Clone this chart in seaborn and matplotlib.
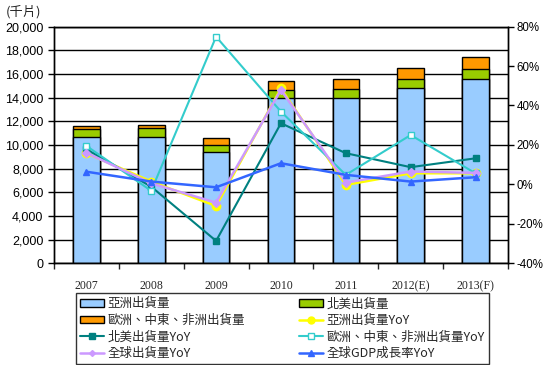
import numpy as np
import pandas as pd
import matplotlib
matplotlib.use("Agg")
import matplotlib.pyplot as plt
import seaborn as sns
from matplotlib.patches import Patch
from matplotlib.lines import Line2D
from matplotlib.ticker import FuncFormatter, MultipleLocator, FixedLocator

sns.set_style("ticks")
plt.rcParams['font.family'] = ['Liberation Sans', 'DejaVu Sans']

# ---- data ----
years = ['2007', '2008', '2009', '2010', '2011', '2012(E)', '2013(F)']
asia = [10650, 10650, 9430, 13950, 13950, 14790, 15550]
north_america = [700, 750, 540, 670, 750, 760, 850]
emea = [250, 260, 620, 790, 850, 930, 1010]

asia_yoy = [15.8, 1.4, -11.0, 48.7, -0.3, 5.6, 5.6]
na_yoy = [17.8, -1.2, -28.7, 31.0, 15.8, 8.7, 13.2]
emea_yoy = [19.5, -3.3, 74.9, 36.9, 4.8, 25.0, 5.6]
world_yoy = [16.0, 0.5, -9.3, 47.9, 0.9, 6.5, 5.8]
gdp_yoy = [6.4, 1.4, -1.5, 10.7, 4.8, 1.4, 3.6]

# ---- colours ----
c_asia, c_na, c_emea = '#99CCFF', '#99CC00', '#FF9900'
c_asia_l, c_na_l, c_emea_l = '#FFFF00', '#008080', '#33CCCC'
c_world_l, c_gdp_l = '#CC99FF', '#3366FF'

cjk = ['Noto Sans CJK TC', 'DejaVu Sans']

df = pd.DataFrame({'year': years, 'asia': asia, 'na': north_america, 'emea': emea})
df['lvl2'] = df['asia'] + df['na']
df['lvl3'] = df['lvl2'] + df['emea']
df['pos'] = np.arange(len(years))

fig = plt.figure(figsize=(5.45, 3.65), dpi=100)
ax = fig.add_axes([0.099, 0.279, 0.833, 0.648])

# stacked bars: draw totals first, then cover with lower segments
bw = 0.41
for col, colour in [('lvl3', c_emea), ('lvl2', c_na), ('asia', c_asia)]:
    sns.barplot(data=df, x='year', y=col, color=colour, ax=ax, width=bw,
                edgecolor='black', linewidth=1.0, saturation=1, errorbar=None)

ax.set_ylim(0, 20000)
ax.set_xlim(-0.5, len(years) - 0.5)
ax.yaxis.set_major_locator(MultipleLocator(2000))
ax.yaxis.set_major_formatter(FuncFormatter(lambda v, p: f'{int(v):,}'))
ax.grid(axis='y', color='black', linewidth=1.0)
ax.set_axisbelow(True)
ax.set_xlabel('')
ax.set_ylabel('')
bounds = np.arange(-0.5, len(years), 1.0)
ax.xaxis.set_major_locator(FixedLocator(bounds))
ax.xaxis.set_minor_locator(FixedLocator(df['pos']))
ax.set_xticklabels([''] * len(bounds))
ax.set_xticklabels(years, minor=True, family=['Liberation Serif', 'DejaVu Serif'], fontsize=8.5)
ax.tick_params(axis='x', which='major', length=4, width=1, direction='out')
ax.tick_params(axis='x', which='minor', length=0, pad=12)
ax.tick_params(axis='y', length=4, width=1, labelsize=9, colors='black')
for s in ax.spines.values():
    s.set_color('black')
    s.set_linewidth(1.0)

# ---- YoY lines on the secondary axis ----
ax2 = ax.twinx()
lines = [
    (asia_yoy, c_asia_l, 'o', 6, c_asia_l, 1.8),
    (na_yoy, c_na_l, 's', 5, c_na_l, 1.5),
    (emea_yoy, c_emea_l, 's', 5, 'white', 1.5),
    (world_yoy, c_world_l, 'D', 4, c_world_l, 1.8),
    (gdp_yoy, c_gdp_l, '^', 5, c_gdp_l, 1.8),
]
for vals, colour, mk, ms, mfc, lw in lines:
    sns.lineplot(x=df['pos'], y=vals, ax=ax2, color=colour, marker=mk,
                 markersize=ms, markerfacecolor=mfc, markeredgecolor=colour,
                 markeredgewidth=1.0, linewidth=lw)

ax2.set_ylim(-40, 80)
ax2.yaxis.set_major_locator(MultipleLocator(20))
ax2.yaxis.set_major_formatter(FuncFormatter(lambda v, p: f'{int(v)}%'))
ax2.tick_params(axis='y', length=4, width=1, labelsize=8.3, pad=2, colors='black')
ax2.set_ylabel('')
for s in ax2.spines.values():
    s.set_color('black')
    s.set_linewidth(1.0)

fig.text(0.01, 0.968, '(千片)', fontsize=9.5, va='center', ha='left', family=cjk)

# ---- legend ----
h_asia = Patch(facecolor=c_asia, edgecolor='black', label='亞洲出貨量')
h_na = Patch(facecolor=c_na, edgecolor='black', label='北美出貨量')
h_emea = Patch(facecolor=c_emea, edgecolor='black', label='歐洲、中東、非洲出貨量')
h_asia_l = Line2D([], [], color=c_asia_l, marker='o', markersize=5, lw=1.8, label='亞洲出貨量YoY')
h_na_l = Line2D([], [], color=c_na_l, marker='s', markersize=4, lw=1.5, label='北美出貨量YoY')
h_emea_l = Line2D([], [], color=c_emea_l, marker='s', markersize=4, markerfacecolor='white',
                  lw=1.5, label='歐洲、中東、非洲出貨量YoY')
h_world_l = Line2D([], [], color=c_world_l, marker='D', markersize=3, lw=1.8, label='全球出貨量YoY')
h_gdp_l = Line2D([], [], color=c_gdp_l, marker='^', markersize=4, lw=1.8, label='全球GDP成長率YoY')
handles = [h_asia, h_emea, h_na_l, h_world_l, h_na, h_asia_l, h_emea_l, h_gdp_l]
leg = fig.legend(handles=handles, ncol=2, loc='upper left',
                 bbox_to_anchor=(0.139, 1 - 293 / 365),
                 frameon=True, fancybox=False, edgecolor='black', borderaxespad=0,
                 prop={'family': cjk, 'size': 9},
                 handlelength=1.9, handleheight=0.6, labelspacing=0.28,
                 handletextpad=0.3, borderpad=0.35, columnspacing=4.3)
leg.get_frame().set_linewidth(1.0)

fig.savefig('out.png', dpi=100, facecolor='white')
